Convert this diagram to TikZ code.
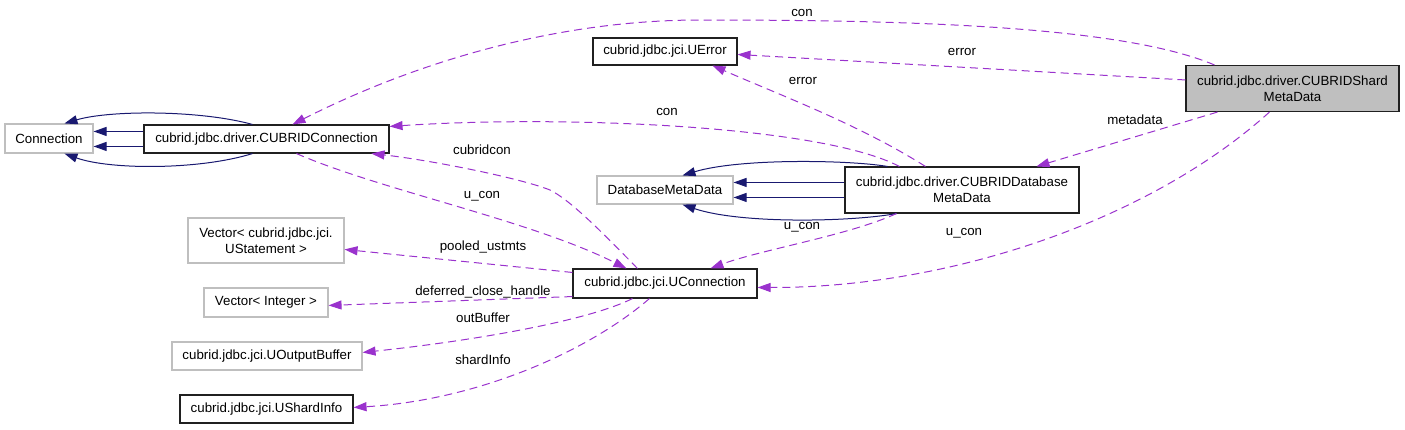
\documentclass[tikz,border=0pt]{standalone}
\usepackage{fontspec}
\setmainfont{Liberation Sans}
\usetikzlibrary{arrows.meta}
\definecolor{edgepurple}{HTML}{9A32CD}
\definecolor{inhnavy}{HTML}{191970}
\definecolor{boxgray}{HTML}{BFBFBF}
\definecolor{boxedge}{HTML}{202020}
\begin{document}
\begin{tikzpicture}[x=1pt,y=-1pt,
  cls/.style={draw=boxedge, line width=1.1pt, rectangle, inner sep=0pt, align=center,
    font=\fontsize{13.3}{16}\selectfont, text=black},
  ext/.style={cls, draw=boxgray},
  cur/.style={cls, fill=boxgray},
  inh/.style={draw=inhnavy, line width=1pt, -{Triangle[length=13pt,width=9pt]}},
  use/.style={draw=edgepurple, line width=1pt, dash pattern=on 8pt off 5pt,
    -{Triangle[length=13pt,width=9pt]}},
  lbl/.style={font=\fontsize{13.3}{16}\selectfont, inner sep=0pt, text=black}]
\useasboundingbox (0,0) rectangle (1405,429);

% nodes
\node[ext, minimum width=88pt, minimum height=29pt] (conn) at (49,138.5) {Connection};
\node[cls, minimum width=245pt, minimum height=28pt] (cconn) at (266.5,139) {cubrid.jdbc.driver.CUBRIDConnection};
\node[cls, minimum width=144pt, minimum height=27pt] (uerr) at (665,51.5) {cubrid.jdbc.jci.UError};
\node[cur, minimum width=213pt, minimum height=46pt] (shard) at (1292.5,88.5) {cubrid.jdbc.driver.CUBRIDShard\\MetaData};
\node[ext, minimum width=136pt, minimum height=28pt] (dbmd) at (665,190) {DatabaseMetaData};
\node[cls, minimum width=234pt, minimum height=46pt] (cdbmd) at (962,190) {cubrid.jdbc.driver.CUBRIDDatabase\\MetaData};
\node[cls, minimum width=184pt, minimum height=29pt] (ucon) at (665,283.5) {cubrid.jdbc.jci.UConnection};
\node[ext, minimum width=156pt, minimum height=45pt] (vus) at (266,240.5) {Vector< cubrid.jdbc.jci.\\UStatement >};
\node[ext, minimum width=124pt, minimum height=29pt] (vint) at (266,302.5) {Vector< Integer >};
\node[ext, minimum width=190pt, minimum height=28pt] (uob) at (267,356) {cubrid.jdbc.jci.UOutputBuffer};
\node[cls, minimum width=173pt, minimum height=28pt] (usi) at (266.5,409) {cubrid.jdbc.jci.UShardInfo};

% inheritance CUBRIDConnection -> Connection
\draw[inh] ([xshift=109pt]cconn.north west) .. controls (200,110) and (110,110) .. ([xshift=60pt]conn.north west);
\draw[inh] ([yshift=-7pt]cconn.north west) -- ([yshift=-8pt]conn.north east);
\draw[inh] ([yshift=-22pt]cconn.north west) -- ([yshift=-23pt]conn.north east);
\draw[inh] ([xshift=109pt]cconn.south west) .. controls (200,170) and (110,170) .. ([xshift=60pt]conn.south west);

% inheritance CUBRIDDatabaseMetaData -> DatabaseMetaData
\draw[inh] ([xshift=43pt]cdbmd.north west) .. controls (850,160) and (740,158) .. ([xshift=86pt]dbmd.north west);
\draw[inh] ([yshift=-16pt]cdbmd.north west) -- ([yshift=-7pt]dbmd.north east);
\draw[inh] ([yshift=-31pt]cdbmd.north west) -- ([yshift=-22pt]dbmd.north east);
\draw[inh] ([xshift=52pt]cdbmd.south west) .. controls (850,222) and (740,224) .. ([xshift=86pt]dbmd.south west);

% usage edges
\draw[use] ([xshift=29pt]shard.north west) .. controls (1120,25) and (900,20) .. (700,20)
  .. controls (560,20) and (420,60) .. ([xshift=149pt]cconn.north west);
\node[lbl] (lcon1) at (802,13) {con};

\draw[use] ([yshift=-15pt]shard.north west) -- ([yshift=-17pt]uerr.north east);
\node[lbl] (lerr1) at (962,52) {error};

\draw[use] ([xshift=32pt]shard.south west) -- ([xshift=192pt]cdbmd.north west);
\node[lbl] (lmeta) at (1135,120) {metadata};

\draw[use] ([xshift=84pt]shard.south west) .. controls (1150,220) and (950,288) .. ([yshift=-19pt]ucon.north east);
\node[lbl] (lucon1) at (964,233) {u\_con};

\draw[use] ([xshift=81pt]cdbmd.north west) .. controls (860,125) and (780,95) .. ([xshift=120pt]uerr.south west);
\node[lbl] (lerr2) at (803,81) {error};

\draw[use] ([xshift=55pt]cdbmd.north west) .. controls (820,125) and (560,115) .. ([yshift=-2pt]cconn.north east);
\node[lbl] (lcon2) at (667,112) {con};

\draw[use] ([xshift=52pt]cdbmd.south west) .. controls (850,235) and (760,250) .. ([xshift=138pt]ucon.north west);
\node[lbl] (lucon2) at (802,227) {u\_con};

\draw[use] ([xshift=65pt]ucon.north west) .. controls (600,230) and (570,200) .. (550,190)
  .. controls (520,178) and (430,160) .. ([xshift=228pt]cconn.south west);
\node[lbl] (lcubcon) at (482,150) {cubridcon};

\draw[use] ([xshift=153pt]cconn.south west) .. controls (380,190) and (530,220) .. ([xshift=54pt]ucon.north west);
\node[lbl] (lucon3) at (482,196) {u\_con};

\draw[use] ([yshift=-4pt]ucon.north west) -- ([yshift=-32pt]vus.north east);
\node[lbl] (lpool) at (483,247) {pooled\_ustmts};

\draw[use] ([yshift=2pt]ucon.south west) -- ([yshift=-18pt]vint.north east);
\node[lbl] (ldef) at (483,292) {deferred\_close\_handle};

\draw[use] ([xshift=60pt]ucon.south west) .. controls (590,320) and (480,340) .. ([yshift=-11pt]uob.north east);
\node[lbl] (lout) at (483,318) {outBuffer};

\draw[use] ([xshift=77pt]ucon.south west) .. controls (590,350) and (480,400) .. ([yshift=-13pt]usi.north east);
\node[lbl] (lshard) at (483,360) {shardInfo};
\end{tikzpicture}
\end{document}
